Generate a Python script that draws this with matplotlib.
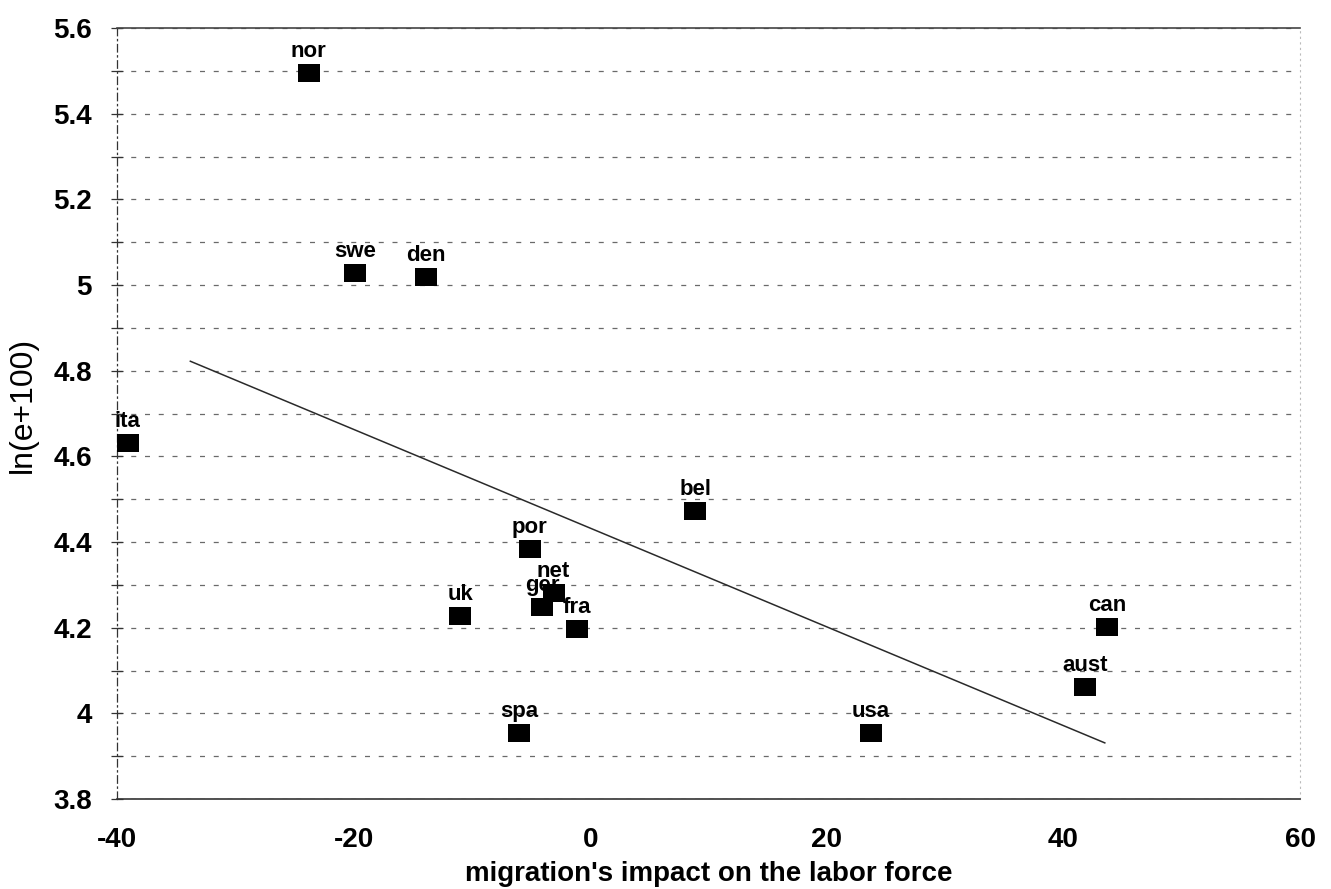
import matplotlib
matplotlib.use('Agg')
import matplotlib.pyplot as plt
from matplotlib.path import Path
import numpy as np

# ---- data ----
countries = ['nor', 'swe', 'den', 'ita', 'bel', 'por', 'uk', 'ger', 'net', 'fra',
             'spa', 'usa', 'can', 'aust']
impact = [-23.8, -19.9, -13.9, -39.1, 8.9, -5.1, -11.0, -4.05, -3.1, -1.1,
          -6.0, 23.7, 43.7, 41.8]
ln_e = [5.494, 5.029, 5.019, 4.632, 4.472, 4.384, 4.227, 4.249, 4.28, 4.197,
        3.955, 3.953, 4.202, 4.061]

fit_x = [-33.8, 43.5]
fit_y = [4.822, 3.931]

x_ticks = [-40, -20, 0, 20, 40, 60]
y_ticks = [3.8, 4.0, 4.2, 4.4, 4.6, 4.8, 5.0, 5.2, 5.4, 5.6]
y_tick_labels = ['3.8', '4', '4.2', '4.4', '4.6', '4.8', '5', '5.2', '5.4', '5.6']
y_minor = [3.9, 4.1, 4.3, 4.5, 4.7, 4.9, 5.1, 5.3, 5.5]

FONT = 'Liberation Sans'

W, H = 1331, 889
fig = plt.figure(figsize=(W / 100, H / 100), dpi=100)
ax = fig.add_axes([117 / W, 1 - 799 / H, (1300 - 117) / W, (799 - 28) / H])

ax.set_xlim(-40, 60)
ax.set_ylim(3.8, 5.6)

ax.set_xticks(x_ticks)
ax.set_xticklabels([str(v) for v in x_ticks], family=FONT, fontweight='bold', fontsize=20)
ax.set_yticks(y_ticks)
ax.set_yticklabels(y_tick_labels, family=FONT, fontweight='bold', fontsize=20)
ax.set_yticks(y_minor, minor=True)

ax.grid(axis='y', which='both', linestyle=(0, (4, 7)), color='#6a6a6a', lw=0.9)
ax.set_axisbelow(True)

ax.tick_params(axis='y', which='both', direction='inout', length=8, width=0.9,
               color='#333333', pad=14)
ax.tick_params(axis='x', which='both', length=0, pad=20)

# frame
ax.spines['top'].set_color('#444444')
ax.spines['top'].set_linewidth(1.2)
ax.spines['bottom'].set_color('#333333')
ax.spines['bottom'].set_linewidth(1.2)
ax.spines['left'].set_color('#333333')
ax.spines['left'].set_linewidth(0.9)
ax.spines['left'].set_linestyle((0, (6, 3, 1, 3)))
ax.spines['right'].set_color('#bbbbbb')
ax.spines['right'].set_linewidth(0.8)
ax.spines['right'].set_linestyle((0, (1, 4)))

# regression line
ax.plot(fit_x, fit_y, color='#2a2a2a', lw=1.1, zorder=2)

# rectangular markers (wider than tall)
rect = Path([(-1, -0.8), (1, -0.8), (1, 0.8), (-1, 0.8), (-1, -0.8)],
            [Path.MOVETO, Path.LINETO, Path.LINETO, Path.LINETO, Path.CLOSEPOLY])
ax.plot(impact, ln_e, linestyle='none', marker=rect, markersize=16,
        color='black', markeredgewidth=0, zorder=5, clip_on=False)

for name, xv, yv in zip(countries, impact, ln_e):
    ax.annotate(name, (xv, yv), xytext=(0, 11.5), textcoords='offset points',
                ha='center', va='baseline', fontsize=16, fontweight='bold',
                family=FONT, zorder=4, annotation_clip=False)

ax.set_xlabel("migration's impact on the labor force", family=FONT,
              fontweight='bold', fontsize=20, labelpad=6)
ax.set_ylabel('ln(e+100)', family=FONT, fontsize=23)
ax.yaxis.label.set_va('center')
ax.yaxis.set_label_coords((23 - 117) / 1183, (799 - 405) / 771)

fig.savefig('out.png', dpi=100)
